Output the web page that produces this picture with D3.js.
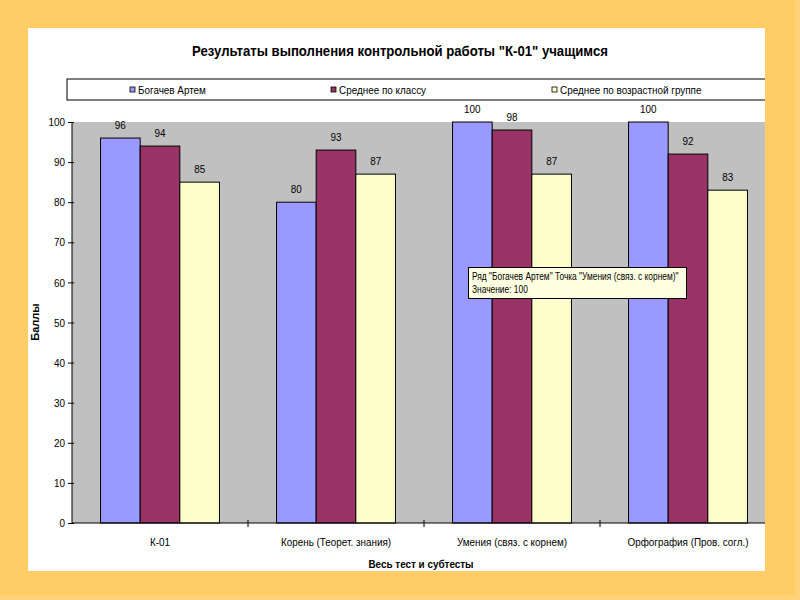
<!DOCTYPE html>
<html><head><meta charset="utf-8">
<script src="https://cdn.jsdelivr.net/npm/d3@7/dist/d3.min.js"></script>
<style>body{margin:0;background:#FFCC66;}svg{display:block;}</style>
</head><body>
<svg id="c" width="800" height="600"></svg>
<script>
const categories = ["К-01", "Корень (Теорет. знания)", "Умения (связ. с корнем)", "Орфография (Пров. согл.)"];
const seriesNames = ["Богачев Артем", "Среднее по классу", "Среднее по возрастной группе"];
const bogachev = [96, 80, 100, 100];
const classAvg = [94, 93, 98, 92];
const ageGroup = [85, 87, 87, 83];
const yTicks = [0, 10, 20, 30, 40, 50, 60, 70, 80, 90, 100];
const seriesColors = ["#9999FF", "#993366", "#FFFFCC"];
const titleText = "Результаты выполнения контрольной работы \"К-01\" учащимся";
const xTitle = "Весь тест и субтесты";
const yTitle = "Баллы";
const tipLine1 = "Ряд \"Богачев Артем\" Точка \"Умения (связ. с корнем)\"";
const tipLine2 = "Значение: 100";

const seriesValues = [bogachev, classAvg, ageGroup];
const FONT = "'Liberation Sans', Arial, sans-serif";
const SX = 0.9;

const svg = d3.select("#c");
svg.append("rect").attr("x",0).attr("y",0).attr("width",800).attr("height",600).attr("fill","#FFCC66");
svg.append("rect").attr("x",795).attr("y",0).attr("width",5).attr("height",600).attr("fill","#FFD27A");
svg.append("rect").attr("x",0).attr("y",595).attr("width",800).attr("height",5).attr("fill","#FFD27A");

const panel = {x:28, y:28, w:737, h:543};
svg.append("defs").append("clipPath").attr("id","pc").append("rect")
  .attr("x",panel.x).attr("y",panel.y).attr("width",panel.w).attr("height",panel.h);
svg.append("rect").attr("x",panel.x).attr("y",panel.y).attr("width",panel.w).attr("height",panel.h).attr("fill","#FFFFFF");
const g = svg.append("g").attr("clip-path","url(#pc)");

function ntext(sel, x, y, txt, opts={}) {
  const t = sel.append("text")
    .attr("transform", `translate(${x},${y}) scale(${opts.sx||SX},1)` + (opts.rot?` rotate(${opts.rot})`:""))
    .attr("font-family", FONT)
    .attr("font-size", opts.size||11)
    .attr("font-weight", opts.bold?"bold":"normal")
    .attr("text-anchor", opts.anchor||"middle")
    .attr("fill","#000")
    .text(txt);
  return t;
}

// Title
ntext(g, 400, 56, titleText, {size:14, bold:true, sx:0.94});

// Scales
const plot = {l:72, r:776, t:122, b:523};
const x = d3.scaleBand().domain(categories).range([plot.l, plot.r]).paddingInner(0).paddingOuter(0);
const x1 = d3.scaleBand().domain(seriesNames).range([0, x.bandwidth()]).paddingInner(0).paddingOuter(0.72);
const y = d3.scaleLinear().domain([0,100]).range([plot.b, plot.t]);

// Legend box
g.append("rect").attr("x",67).attr("y",79).attr("width",760).attr("height",21)
  .attr("fill","#FFFFFF").attr("stroke","#000").attr("stroke-width",1);
const legendX = [130, 331, 552];
seriesNames.forEach((s,i)=>{
  g.append("rect").attr("x",legendX[i]).attr("y",87).attr("width",5).attr("height",5)
    .attr("fill",seriesColors[i]).attr("stroke","#000").attr("stroke-width",0.8);
  ntext(g, legendX[i]+8, 93.5, s, {anchor:"start", size:11});
});

// Plot background
g.append("rect").attr("x",plot.l).attr("y",plot.t).attr("width",plot.r-plot.l).attr("height",plot.b-plot.t)
  .attr("fill","#C0C0C0");

// Bars
categories.forEach((c,ci)=>{
  seriesNames.forEach((s,si)=>{
    const v = seriesValues[si][ci];
    const bx = x(c) + x1(s);
    g.append("rect").attr("x",bx).attr("y",y(v)).attr("width",x1.bandwidth()).attr("height",y(0)-y(v))
      .attr("fill",seriesColors[si]).attr("stroke","#000").attr("stroke-width",1);
    ntext(g, bx + x1.bandwidth()/2, y(v)-9, String(v), {size:11});
  });
});

// Y axis
const yAxis = d3.axisLeft(y).tickValues(yTicks).tickSize(4).tickPadding(5);
const ya = g.append("g").attr("transform",`translate(${plot.l},0)`).call(yAxis);
ya.select(".domain").attr("stroke","#000").attr("d",`M0,${plot.t}V${plot.b}`);
ya.selectAll(".tick line").attr("x1",2).attr("x2",-4).attr("stroke","#000");
ya.selectAll(".tick text").attr("font-family",FONT).attr("font-size",11).attr("fill","#000")
  .attr("x",0).attr("dy",null).attr("dominant-baseline","central")
  .attr("transform",`translate(-7,0) scale(${SX},1)`);

// X axis
const xAxis = d3.axisBottom(x).tickSize(0).tickPadding(15);
const xa = g.append("g").attr("transform",`translate(0,${plot.b})`).call(xAxis);
xa.select(".domain").attr("stroke","#000").attr("d",`M${plot.l},0H${plot.r}`);
xa.selectAll(".tick text").attr("font-family",FONT).attr("font-size",11).attr("fill","#000")
  .attr("y",0).attr("dy",null).attr("transform",`translate(0,23) scale(${SX},1)`);
const bounds = categories.map(c=>x(c)).slice(1);
xa.selectAll(".btick").data(bounds).enter().append("line").attr("class","btick")
  .attr("x1",d=>d).attr("x2",d=>d).attr("y1",-3).attr("y2",4).attr("stroke","#000");

// Axis titles
ntext(g, 421, 568, xTitle, {size:11, bold:true});
ntext(g, 39, 322, yTitle, {size:11, bold:true, sx:1, rot:-90});

// Tooltip
const tip = g.append("g");
tip.append("rect").attr("x",468.5).attr("y",267.5).attr("width",218).attr("height",31)
  .attr("fill","#FFFFE1").attr("stroke","#000").attr("stroke-width",1);
ntext(tip, 472, 280, tipLine1, {anchor:"start", size:10, sx:0.84});
ntext(tip, 472, 293, tipLine2, {anchor:"start", size:10, sx:0.84});
</script>
</body></html>
